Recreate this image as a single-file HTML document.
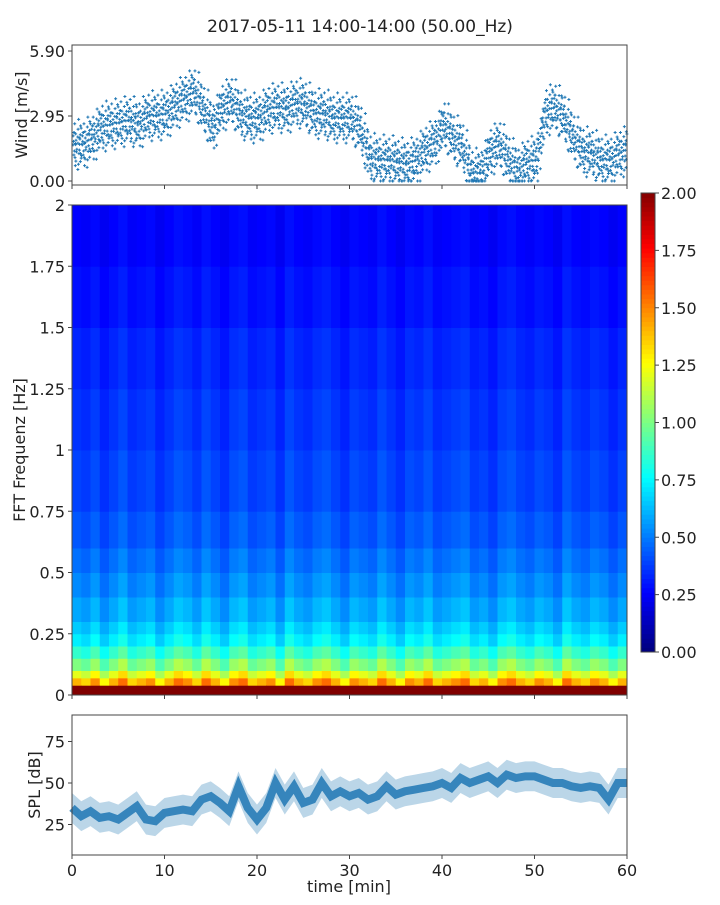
<!DOCTYPE html>
<html><head><meta charset="utf-8"><style>
body{margin:0;background:#fff;font-family:"Liberation Sans","DejaVu Sans",sans-serif;}
svg text{font-family:"DejaVu Sans","Liberation Sans",sans-serif;fill:#222;}
</style></head><body>
<svg id="fig" width="720" height="900" xmlns="http://www.w3.org/2000/svg">
<text x="360" y="32" font-size="17" text-anchor="middle">2017-05-11 14:00-14:00 (50.00_Hz)</text>
<g id="wind"></g>
<g id="spec"></g>
<g id="cbar"></g>
<g id="spl"></g>
</svg>
<script>
const windTime=[0,1,2,3,4,5,6,7,8,9,10,11,12,13,14,15,16,17,18,19,20,21,22,23,24,25,26,27,28,29,30,31,32,33,34,35,36,37,38,39,40,41,42,43,44,45,46,47,48,49,50,51,52,53,54,55,56,57,58,59,60];
const windValues=[1.6,1.6,1.9,2.4,2.5,2.6,2.7,2.5,2.9,2.9,3.0,3.4,3.7,4.0,3.2,2.4,3.3,3.6,3.0,2.8,2.8,3.2,3.3,3.2,3.5,3.4,3.0,3.0,2.8,2.8,2.8,2.3,1.0,0.9,0.9,0.8,0.7,0.9,1.4,1.7,2.5,1.9,1.5,0.3,0.3,1.3,1.6,0.9,0.4,0.8,0.9,3.1,3.3,2.8,1.9,1.3,1.2,0.9,0.9,1.2,1.4];
const windTicks=[0,2.95,5.9];
const windTickLabels=["0.00","2.95","5.90"];
const splTime=windTime;
const splValues=[35,30,33,29,30,28,32,36,28,27,32,33,34,33,40,42,38,33,48,35,28,35,50,40,48,38,40,50,42,45,42,44,40,42,48,43,45,46,47,48,50,47,53,50,52,54,50,55,53,54,54,52,50,50,48,47,48,47,40,50,50];
const splTicks=[25,50,75];
const xTicks=[0,10,20,30,40,50,60];
const freqBins=[0,0.04,0.07,0.1,0.15,0.2,0.25,0.3,0.4,0.5,0.6,0.75,1.0,1.25,1.5,1.75,2.0];
const freqLevel=[2.4,1.4,1.2,1.0,0.85,0.72,0.65,0.58,0.52,0.47,0.42,0.38,0.35,0.32,0.28,0.25];
const timeFactor=[1,0.95,1.05,0.9,1.0,1.1,0.95,1.0,1.05,0.9,1.0,1.1,1.05,0.95,1.1,1.0,0.9,1.05,1.1,0.95,1.0,1.05,0.9,1.1,1.0,0.95,1.05,1.1,1.0,0.9,1.05,1.0,0.95,1.1,1.0,0.9,1.05,1.0,1.1,0.95,1.0,1.05,1.1,0.95,1.0,0.9,1.05,1.1,1.0,0.95,1.05,1.0,0.9,1.1,1.0,0.95,1.05,1.0,0.9,1.0];
const cbTicks=[0,0.25,0.5,0.75,1.0,1.25,1.5,1.75,2.0];
const specYTicks=[0,0.25,0.5,0.75,1,1.25,1.5,1.75,2];
const specYLabels=["0","0.25","0.5","0.75","1","1.25","1.5","1.75","2"];

const NS="http://www.w3.org/2000/svg";
function mk(parent,tag,attrs,txt){const e=document.createElementNS(NS,tag);for(const k in attrs)e.setAttribute(k,attrs[k]);if(txt!==undefined)e.textContent=txt;parent.appendChild(e);return e;}
const X0=72,X1=627;
const xs=t=>X0+(t/60)*(X1-X0);
function jet(v){v=Math.max(0,Math.min(1,v));
 const r=Math.max(0,Math.min(1,Math.min(4*v-1.5,-4*v+4.5)));
 const g=Math.max(0,Math.min(1,Math.min(4*v-0.5,-4*v+3.5)));
 const b=Math.max(0,Math.min(1,Math.min(4*v+0.5,-4*v+2.5)));
 return `rgb(${Math.round(r*255)},${Math.round(g*255)},${Math.round(b*255)})`;}

// Wind panel
const W=document.getElementById('wind');
const wy=v=>181-v*22.03;
const jit=[[-0.5,-0.7],[-0.3,0.45],[-0.1,-0.2],[0.1,0.75],[0.3,0.1],[0.45,-0.45],[-0.2,0.25],[0.2,-0.9],[0,0.5],[-0.4,0.05],[0.35,1.0],[-0.05,-0.35]];
for(let i=0;i<windTime.length-1;i++){
 for(let s=0;s<3;s++){
  const f=s/3,t=windTime[i]+f,v=windValues[i]*(1-f)+windValues[i+1]*f;
  jit.forEach((j,k)=>{const x=xs(t+j[0]*0.35+0.17+((k*7+s*3)%5)*0.03),y=wy(Math.max(0,v+j[1]*(0.8+((k+s)%3)*0.2)));if(x<X0||x>X1)return;
   const p=mk(W,'path',{d:`M${x-1.5},${y}h3M${x},${y-1.5}v3`,stroke:'#1f77b4','stroke-width':1});
   
   });
 }
}
mk(W,'rect',{x:X0,y:45,width:X1-X0,height:140,fill:'none',stroke:'#444','stroke-width':1,});
windTicks.forEach((v,i)=>{mk(W,'line',{x1:X0-4,x2:X0,y1:wy(v),y2:wy(v),stroke:'#444'});
 mk(W,'text',{x:X0-7,y:wy(v)+6,'font-size':16,'text-anchor':'end',},windTickLabels[i]);});
xTicks.forEach(t=>mk(W,'line',{x1:xs(t),x2:xs(t),y1:185,y2:189,stroke:'#444'}));
mk(W,'text',{x:27,y:115,'font-size':16,'text-anchor':'middle',transform:'rotate(-90 27 115)',},'Wind [m/s]');

// Spectrogram
const S=document.getElementById('spec');
const SY0=695,SY1=205;
const sy=f=>SY0-(f/2)*(SY0-SY1);
for(let t=0;t<timeFactor.length;t++){
 for(let k=0;k<freqLevel.length;k++){
  const val=freqLevel[k]*timeFactor[t];
  const r=mk(S,'rect',{x:xs(t),y:sy(freqBins[k+1]),width:xs(t+1)-xs(t)+0.5,height:sy(freqBins[k])-sy(freqBins[k+1])+0.5,fill:jet(val/2)});
  
  
 }
}
mk(S,'rect',{x:X0,y:SY1,width:X1-X0,height:SY0-SY1,fill:'none',stroke:'#444',});
specYTicks.forEach((f,i)=>{mk(S,'line',{x1:X0-4,x2:X0,y1:sy(f),y2:sy(f),stroke:'#444'});
 mk(S,'text',{x:X0-7,y:sy(f)+6,'font-size':16,'text-anchor':'end',},specYLabels[i]);});
xTicks.forEach(t=>mk(S,'line',{x1:xs(t),x2:xs(t),y1:695,y2:699,stroke:'#444'}));
mk(S,'text',{x:25,y:450,'font-size':16,'text-anchor':'middle',transform:'rotate(-90 25 450)',},'FFT Frequenz [Hz]');

// Colorbar
const C=document.getElementById('cbar');
const cy=v=>652-(v/2)*(652-193);
for(let i=0;i<100;i++){const v=i/100*2;mk(C,'rect',{x:641,y:cy(v+0.02),width:14,height:cy(v)-cy(v+0.02)+0.5,fill:jet(v/2)});}
mk(C,'rect',{x:641,y:193,width:14,height:459,fill:'none',stroke:'#444'});
cbTicks.forEach(v=>{mk(C,'line',{x1:655,x2:659,y1:cy(v),y2:cy(v),stroke:'#444'});
 mk(C,'text',{x:661,y:cy(v)+6,'font-size':16,},v.toFixed(2));});

// SPL
const P=document.getElementById('spl');
const py=v=>783-(v-50)*1.66;
let up='',dn='',ln='';
splTime.forEach((t,i)=>{up+=`${xs(t)},${py(splValues[i]+9)} `;ln+=`${xs(t)},${py(splValues[i])} `;});
for(let i=splTime.length-1;i>=0;i--)dn+=`${xs(splTime[i])},${py(splValues[i]-9)} `;
mk(P,'polygon',{points:up+dn,fill:'#1f77b4','fill-opacity':0.3,});
mk(P,'polyline',{points:ln,fill:'none',stroke:'#1f77b4','stroke-width':8,'stroke-opacity':0.85,});
mk(P,'rect',{x:X0,y:715,width:X1-X0,height:140,fill:'none',stroke:'#444',});
splTicks.forEach(v=>{mk(P,'line',{x1:X0-4,x2:X0,y1:py(v),y2:py(v),stroke:'#444'});
 mk(P,'text',{x:X0-7,y:py(v)+6,'font-size':16,'text-anchor':'end',},String(v));});
xTicks.forEach(t=>{mk(P,'line',{x1:xs(t),x2:xs(t),y1:855,y2:859,stroke:'#444'});
 mk(P,'text',{x:xs(t),y:876,'font-size':16,'text-anchor':'middle',},String(t));});
mk(P,'text',{x:40,y:785,'font-size':16,'text-anchor':'middle',transform:'rotate(-90 40 785)',},'SPL [dB]');
mk(P,'text',{x:349,y:892,'font-size':16,'text-anchor':'middle',},'time [min]');
</script>
</body></html>
